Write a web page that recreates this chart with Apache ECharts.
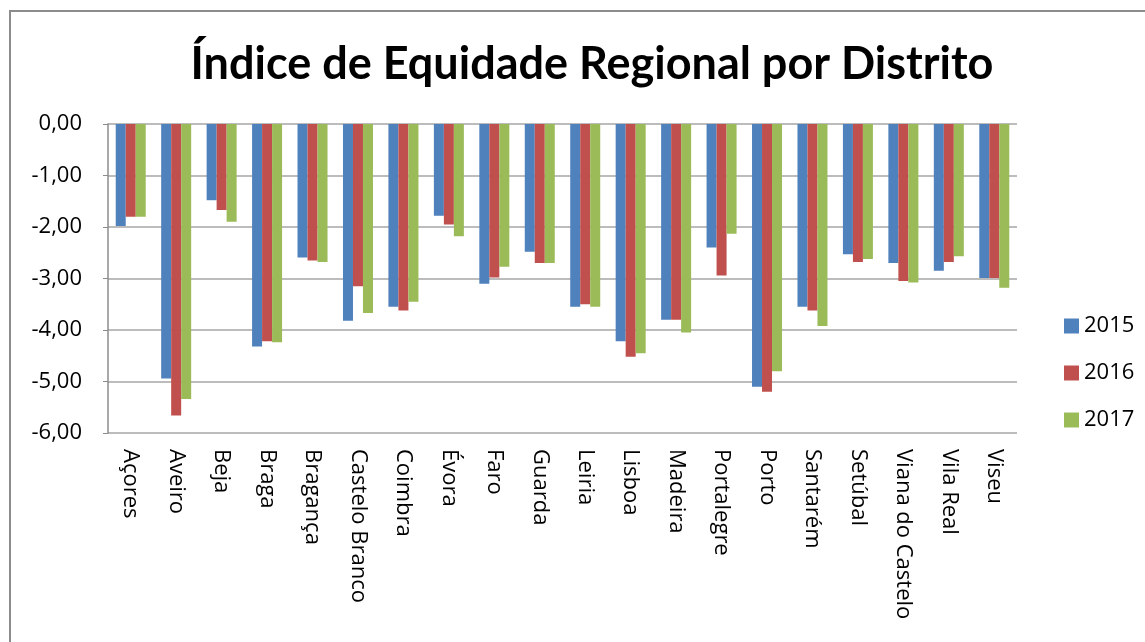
<!DOCTYPE html>
<html>
<head>
<meta charset="utf-8">
<script src="https://cdn.jsdelivr.net/npm/echarts@6/dist/echarts.min.js"></script>
<style>
    html, body { margin: 0; padding: 0; background: #fff; overflow: hidden; }
    .frame {
        position: absolute;
        left: 9px;
        top: 10px;
        width: 1200px;
        height: 700px;
        border-top: 2px solid #8c8c8c;
        border-left: 2px solid #8c8c8c;
    }
    #chart { position: absolute; left: 0; top: 0; width: 1145px; height: 642px; }
</style>
</head>
<body>
<div class="frame"></div>
<div id="chart"></div>
<script>
    const distritos = ['Açores', 'Aveiro', 'Beja', 'Braga', 'Bragança', 'Castelo Branco', 'Coimbra', 'Évora', 'Faro', 'Guarda',
        'Leiria', 'Lisboa', 'Madeira', 'Portalegre', 'Porto', 'Santarém', 'Setúbal', 'Viana do Castelo', 'Vila Real', 'Viseu']
    const anos = ['2015', '2016', '2017']
    const v2015 = [-1.98, -4.94, -1.48, -4.32, -2.59, -3.82, -3.55, -1.78, -3.10, -2.48,
        -3.55, -4.22, -3.80, -2.40, -5.10, -3.55, -2.53, -2.70, -2.85, -2.99]
    const v2016 = [-1.80, -5.66, -1.67, -4.22, -2.65, -3.15, -3.62, -1.95, -2.98, -2.70,
        -3.50, -4.52, -3.80, -2.94, -5.20, -3.62, -2.68, -3.05, -2.68, -2.99]
    const v2017 = [-1.80, -5.34, -1.90, -4.24, -2.68, -3.67, -3.45, -2.18, -2.77, -2.70,
        -3.55, -4.45, -4.05, -2.13, -4.80, -3.92, -2.62, -3.08, -2.57, -3.18]
    const yTicks = [0, -1, -2, -3, -4, -5, -6]

    const cores = ['#4f81bd', '#c0504d', '#9bbb59']
    const valores = [v2015, v2016, v2017]

    const myChart = echarts.init(document.getElementById('chart'))
    const option = {
        animation: false,
        color: cores,
        title: {
            text: 'Índice de Equidade Regional por Distrito',
            left: 587,
            textAlign: 'center',
            top: 37,
            textStyle: {
                fontFamily: 'Lato',
                fontWeight: 'bold',
                fontSize: 45,
                color: '#000'
            }
        },
        legend: {
            orient: 'vertical',
            left: 1059,
            top: 310,
            icon: 'rect',
            itemWidth: 15,
            itemHeight: 15,
            itemGap: 25,
            data: anos,
            textStyle: {
                fontFamily: 'Open Sans',
                fontSize: 22,
                color: '#000'
            }
        },
        grid: {
            left: 108,
            right: 128,
            top: 124,
            bottom: 209,
            containLabel: false
        },
        xAxis: {
            type: 'category',
            data: distritos,
            position: 'bottom',
            axisLine: { show: false },
            axisTick: { show: false },
            axisLabel: {
                rotate: -90,
                interval: 0,
                margin: 16,
                fontFamily: 'Open Sans',
                fontSize: 22,
                color: '#000'
            }
        },
        yAxis: {
            type: 'value',
            min: -6,
            max: 0,
            interval: 1,
            axisLine: { show: true, lineStyle: { color: '#8c8c8c', width: 1.5 } },
            axisTick: { show: true, length: 5, lineStyle: { color: '#8c8c8c' } },
            splitLine: { show: true, lineStyle: { color: '#a6a6a6', width: 1.5 } },
            axisLabel: {
                margin: 26,
                fontFamily: 'Open Sans',
                fontSize: 22,
                color: '#000',
                formatter: function (v) {
                    return yTicks.indexOf(v) >= 0 ? v.toFixed(2).replace('.', ',') : ''
                }
            }
        },
        series: anos.map(function (ano, i) {
            return {
                name: ano,
                type: 'bar',
                data: valores[i],
                barWidth: 10,
                barGap: '0%',
                itemStyle: {
                    color: cores[i]
                }
            }
        })
    }
    myChart.setOption(option)
</script>
</body>
</html>
